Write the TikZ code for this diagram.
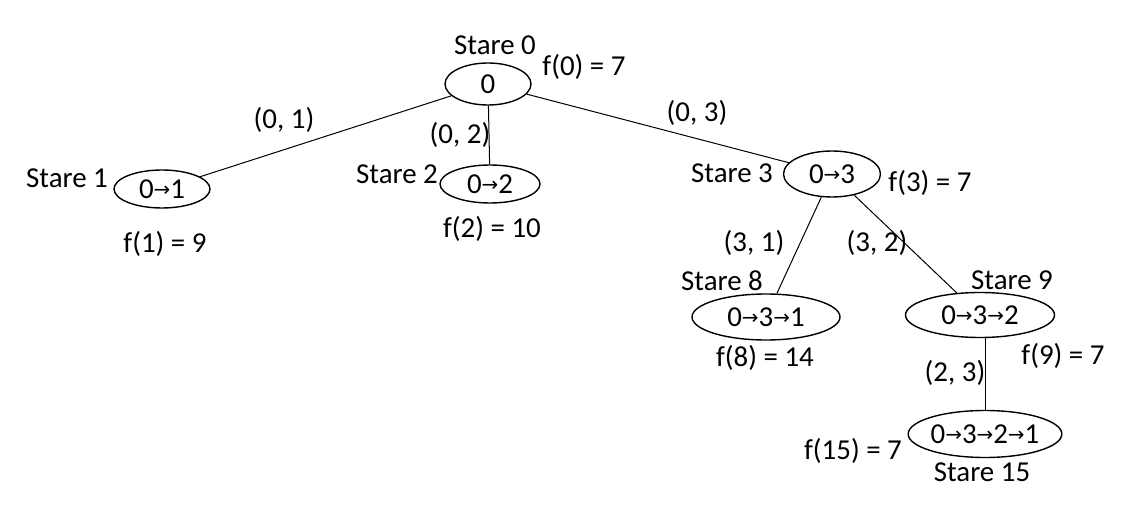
\documentclass[tikz,border=0pt]{standalone}
\usepackage{fontspec}
\setmainfont{Carlito}
\newfontfamily\dejavu{DejaVu Sans}
\usetikzlibrary{shapes.geometric}
\newcommand\ar{\raisebox{1.5bp}{\dejavu\fontsize{20}{20}\selectfont →}}
\tikzset{
  st/.style={draw, ellipse, inner sep=0pt, line width=1.4bp, font=\fontsize{29}{31}\selectfont},
  lab/.style={inner sep=0pt, font=\fontsize{29}{31}\selectfont},
  edge/.style={line width=1bp}
}
\begin{document}
\begin{tikzpicture}[x=1bp,y=-1bp]
\useasboundingbox (0,0) rectangle (1132,506);
\node[st, minimum width=86bp, minimum height=42bp] (n0) at (488,84) {0};
\node[st, minimum width=96bp, minimum height=38bp] (n1) at (162,189) {0\ar1};
\node[st, minimum width=100bp, minimum height=38bp] (n2) at (490,184) {0\ar2};
\node[st, minimum width=97bp, minimum height=46bp] (n3) at (832,174) {0\ar3};
\node[st, minimum width=148bp, minimum height=46bp] (n8) at (766,317) {0\ar3\ar1};
\node[st, minimum width=149bp, minimum height=45bp] (n9) at (980,315) {0\ar3\ar2};
\node[st, minimum width=148bp, minimum height=47bp] (n15) at (985,434) {0\ar3\ar2\ar1};

\draw[edge] (n0) -- (n1);
\draw[edge] (n0) -- (n2);
\draw[edge] (n0) -- (n3);
\draw[edge] (n3) -- (n8);
\draw[edge] (n3) -- (n9);
\draw[edge] (n9.south -| n15.north) -- (n15.north);

\node[lab] (s0) at (495,45) {Stare 0};
\node[lab] (f0) at (584,67) {f(0) = 7};
\node[lab] (e01) at (284,120) {(0, 1)};
\node[lab] (e02) at (460,135) {(0, 2)};
\node[lab] (e03) at (697,113) {(0, 3)};
\node[lab] (s1) at (67,178) {Stare 1};
\node[lab] (f1) at (165,244) {f(1) = 9};
\node[lab] (s2) at (397,174) {Stare 2};
\node[lab] (f2) at (492,229) {f(2) = 10};
\node[lab] (s3) at (732,173) {Stare 3};
\node[lab] (f3) at (930,183) {f(3) = 7};
\node[lab] (e31) at (754,243) {(3, 1)};
\node[lab] (e32) at (877,243) {(3, 2)};
\node[lab] (s8) at (722,281) {Stare 8};
\node[lab] (s9) at (1012,280) {Stare 9};
\node[lab] (f8) at (765,358) {f(8) = 14};
\node[lab] (f9) at (1063,356) {f(9) = 7};
\node[lab] (e23) at (955,373) {(2, 3)};
\node[lab] (f15) at (853,451) {f(15) = 7};
\node[lab] (s15) at (982,472) {Stare 15};
\end{tikzpicture}
\end{document}
